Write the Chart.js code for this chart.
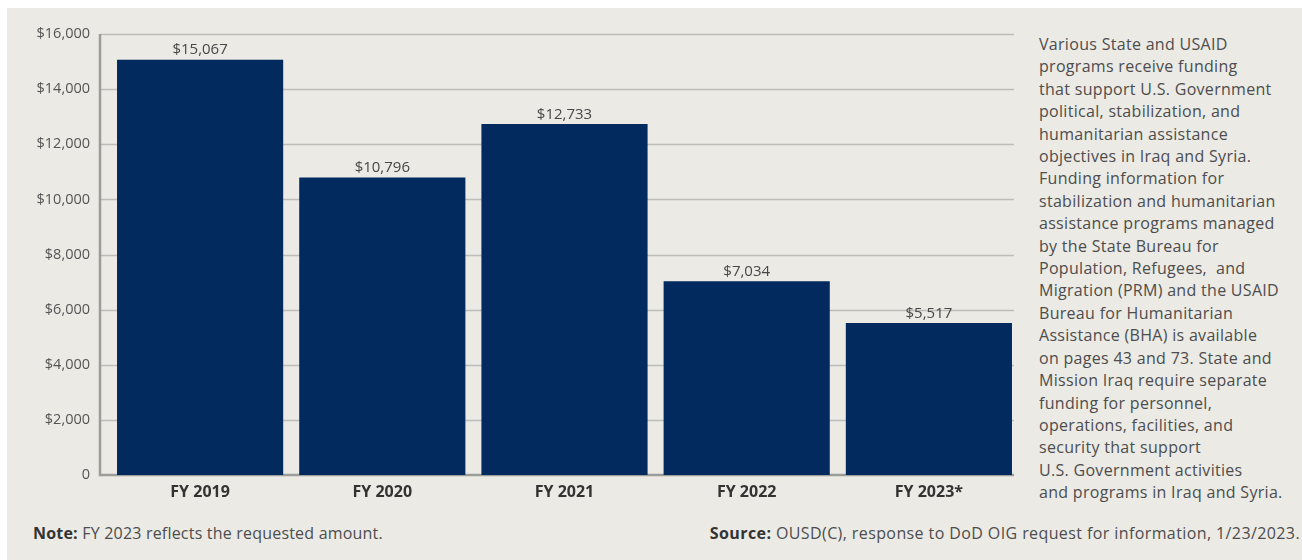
<!DOCTYPE html>
<html>
<head>
<meta charset="utf-8">
<script src="https://cdn.jsdelivr.net/npm/chart.js@4.4.1/dist/chart.umd.min.js"></script>
<style>
  html, body { margin: 0; padding: 0; background: #ffffff; }
  #wrap { position: absolute; left: 7px; top: 8px; width: 1295px; height: 552px; background: #ebeae5; }
  #box { position: absolute; left: -7px; top: -8px; width: 1020px; height: 520px; }
  #side { position: absolute; left: 1032px; top: 25px; width: 270px; font-family: "Open Sans", sans-serif;
          font-size: 16px; line-height: 22.4px; color: #4d4d4d; white-space: nowrap; letter-spacing: 0.3px; }
  .foot { position: absolute; top: 514px; font-family: "Open Sans", sans-serif; font-size: 16px; color: #4d4d4d; white-space: nowrap; }
  .foot b { color: #333; }
</style>
</head>
<body>
<div id="wrap">
  <div id="box"><canvas id="myChart" width="1020" height="520"></canvas></div>
  <div id="side">Various State and USAID<br>programs receive funding<br>that support U.S. Government<br>political, stabilization, and<br>humanitarian assistance<br>objectives in Iraq and Syria.<br>Funding information for<br>stabilization and humanitarian<br>assistance programs managed<br>by the State Bureau for<br>Population, Refugees,&nbsp; and<br>Migration (PRM) and the USAID<br>Bureau for Humanitarian<br>Assistance (BHA) is available<br>on pages 43 and 73. State and<br>Mission Iraq require separate<br>funding for personnel,<br>operations, facilities, and<br>security that support<br>U.S. Government activities<br>and programs in Iraq and Syria.</div>
  <div class="foot" style="left:26px; letter-spacing:0.2px"><b>Note:</b> FY 2023 reflects the requested amount.</div>
  <div class="foot" style="right:2px; letter-spacing:0.4px"><b>Source:</b> OUSD(C), response to DoD OIG request for information, 1/23/2023.</div>
</div>
<script>
const years = ["FY 2019", "FY 2020", "FY 2021", "FY 2022", "FY 2023*"];
const funding = [15067, 10796, 12733, 7034, 5517];
const yTicks = [0, 2000, 4000, 6000, 8000, 10000, 12000, 14000, 16000];

function money(v) {
    return v === 0 ? "0" : "$" + v.toLocaleString("en-US");
}

// axis frame + gridlines: start a bit left of the first bar, end at the last bar
const frame = {
    id: "frame",
    beforeDatasetsDraw(chart) {
        const ctx = chart.ctx;
        const a = chart.chartArea;
        const y = chart.scales.y;
        const x0 = a.left - 9, x1 = a.right - 6;
        ctx.save();
        ctx.lineWidth = 1.5;
        ctx.strokeStyle = "#bdbdb9";
        yTicks.forEach(function (v) {
            if (v === 0) return;
            const py = Math.round(y.getPixelForValue(v)) + 0.5;
            ctx.beginPath(); ctx.moveTo(x0, py); ctx.lineTo(x1, py); ctx.stroke();
        });
        ctx.lineWidth = 2.5;
        ctx.strokeStyle = "#9c9c98";
        const p0 = y.getPixelForValue(0);
        ctx.beginPath();
        ctx.moveTo(x0, a.top);
        ctx.lineTo(x0, p0);
        ctx.lineTo(x1, p0);
        ctx.stroke();
        ctx.restore();
    }
};

// value labels above each bar
const barLabels = {
    id: "barLabels",
    afterDatasetsDraw(chart) {
        const ctx = chart.ctx;
        const meta = chart.getDatasetMeta(0);
        ctx.save();
        ctx.font = "15px 'Open Sans'";
        ctx.fillStyle = "#474747";
        ctx.textAlign = "center";
        ctx.textBaseline = "bottom";
        meta.data.forEach(function (bar, i) {
            ctx.fillText(money(funding[i]), bar.x, bar.y - 2);
        });
        ctx.restore();
    }
};

const CHART = document.getElementById("myChart");
var myChart = new Chart(CHART, {
    type: 'bar',
    data: {
        labels: years,
        datasets: [{
            data: funding,
            backgroundColor: "#022a5e",
            barPercentage: 0.912,
            categoryPercentage: 1.0
        }]
    },
    options: {
        responsive: false,
        animation: false,
        layout: { padding: { top: 34, right: 0, bottom: 0, left: 0 } },
        plugins: { legend: { display: false }, tooltip: { enabled: false } },
        scales: {
            x: {
                grid: { display: false, drawTicks: false },
                border: { display: false },
                ticks: { color: "#333333", font: { family: "Open Sans", size: 16, weight: "bold" }, padding: 8 },
                afterFit: function (s) { s.height = 45; }
            },
            y: {
                min: 0,
                max: 16000,
                afterBuildTicks: function (s) { s.ticks = yTicks.map(v => ({ value: v })); },
                grid: { display: false, drawTicks: false },
                border: { display: false },
                ticks: {
                    color: "#555555",
                    font: { family: "Open Sans", size: 14.5 },
                    padding: 19,
                    callback: function (v) { return money(v); }
                },
                afterFit: function (s) { s.width = 109; }
            }
        }
    },
    plugins: [frame, barLabels]
});
</script>
</body>
</html>
